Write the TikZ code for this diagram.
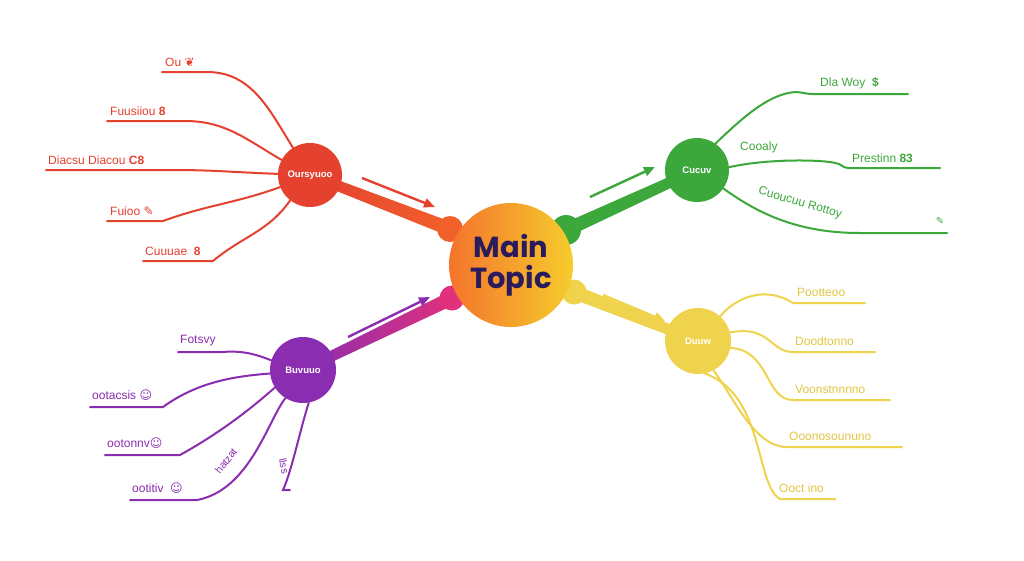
\documentclass[tikz,border=0pt]{standalone}
\usepackage{fontspec}
\setmainfont{Liberation Sans}
\newfontfamily\mainf{Poppins}
\newfontfamily\symf{DejaVu Sans}
\usetikzlibrary{calc,arrows.meta}
\definecolor{redc}{HTML}{E4412F}
\definecolor{redo}{HTML}{F2602A}
\definecolor{greenc}{HTML}{3CA83C}
\definecolor{yellowc}{HTML}{F0D34C}
\definecolor{yellowt}{HTML}{E2C543}
\definecolor{purplec}{HTML}{8A2DB0}
\definecolor{magc}{HTML}{E2307C}
\definecolor{mainL}{HTML}{F4742C}
\definecolor{mainR}{HTML}{F6CC2C}
\definecolor{maintxt}{HTML}{2A1B5C}
\tikzset{
  sub/.style={circle, minimum size=#1, inner sep=0pt, text=white, font=\bfseries\fontsize{9.5}{10}\selectfont},
  blob/.style={circle, minimum size=#1, inner sep=0pt},
  leaftext/.style={anchor=south west, inner sep=0pt, font=\fontsize{12}{13}\selectfont},
  twig/.style={line width=2pt, line cap=round},
  hint/.style={line width=2.4pt, -{Triangle[length=11pt,width=9pt]}}
}
\begin{document}
\begin{tikzpicture}[x=1pt,y=-1pt]
\useasboundingbox[fill=white] (0,0) rectangle (1024,560);

% ---------- centres ----------
\coordinate (mc) at (511,265);
\coordinate (rbc) at (450,229);
\coordinate (gbc) at (566,230);
\coordinate (pbc) at (452,298);
\coordinate (ybc) at (574,292);
\coordinate (rcc) at (310,175);
\coordinate (gcc) at (697,170);
\coordinate (pcc) at (303,370);
\coordinate (ycc) at (698,341);

% ---------- thick branches ----------
\shade[left color=redc, right color=redo]
  ($(rcc)!5pt!90:(rbc)$) -- ($(rcc)!5pt!-90:(rbc)$) -- ($(rbc)!7pt!90:(rcc)$) -- ($(rbc)!7pt!-90:(rcc)$) -- cycle;
\fill[greenc]
  ($(gbc)!7pt!90:(gcc)$) -- ($(gbc)!7pt!-90:(gcc)$) -- ($(gcc)!5pt!90:(gbc)$) -- ($(gcc)!5pt!-90:(gbc)$) -- cycle;
\shade[left color=purplec, right color=magc]
  ($(pcc)!5pt!90:(pbc)$) -- ($(pcc)!5pt!-90:(pbc)$) -- ($(pbc)!7pt!90:(pcc)$) -- ($(pbc)!7pt!-90:(pcc)$) -- cycle;
\fill[yellowc]
  ($(ybc)!7pt!90:(ycc)$) -- ($(ybc)!7pt!-90:(ycc)$) -- ($(ycc)!5pt!90:(ybc)$) -- ($(ycc)!5pt!-90:(ybc)$) -- cycle;

% ---------- blobs and main ----------
\node[blob=26pt, fill=redo] (rb) at (rbc) {};
\node[blob=30pt, fill=greenc] (gb) at (gbc) {};
\node[blob=25pt, fill=magc] (pb) at (pbc) {};
\node[blob=25pt, fill=yellowc] (yb) at (ybc) {};
\node[circle, minimum size=124pt, inner sep=0pt, left color=mainL, right color=mainR,
      text=maintxt, align=center, font=\mainf\bfseries\fontsize{29}{31}\selectfont] (m) at (mc) {Main\\Topic};

% ---------- sub topics ----------
\node[sub=64pt, fill=redc] (rc) at (rcc) {Oursyuoo};
\node[sub=64pt, fill=greenc] (gc) at (gcc) {Cucuv};
\node[sub=66pt, fill=purplec] (pc) at (pcc) {Buvuuo};
\node[sub=66pt, fill=yellowc] (yc) at (ycc) {Duuw};

% ---------- direction arrows ----------
\coordinate (ra1) at (362,178); \coordinate (ra2) at (435,207);
\draw[hint, redc] (ra1) -- (ra2);
\coordinate (ga1) at (590,197); \coordinate (ga2) at (655,167);
\draw[hint, greenc] (ga1) -- (ga2);
\coordinate (pa1) at (348,337); \coordinate (pa2) at (430,297);
\draw[hint, purplec] (pa1) -- (pa2);
\coordinate (ya1) at (603,295); \coordinate (ya2) at (665,321);
\draw[hint, yellowc] (ya1) -- (ya2);

% ---------- red leaves ----------
\begin{scope}[redc]
\coordinate (r1s) at (162,72);  \coordinate (r1e) at (207,72);
\coordinate (r2s) at (107,121); \coordinate (r2e) at (185,121);
\coordinate (r3s) at (46,170);  \coordinate (r3e) at (173,170);
\coordinate (r4s) at (107,221); \coordinate (r4e) at (163,221);
\coordinate (r5s) at (143,261); \coordinate (r5e) at (213,261);
\node[leaftext, text=redc] (r1) at (165,67) {Ou {\symf ❦}};
\node[leaftext, text=redc] (r2) at (110,116) {Fuusiiou \textbf{8}};
\node[leaftext, text=redc] (r3) at (48,165) {Diacsu Diacou \textbf{C8}};
\node[leaftext, text=redc] (r4) at (110,216) {Fuioo {\symf ✎}};
\node[leaftext, text=redc] (r5) at (145,256) {Cuuuae \ \textbf{8}};
\draw[twig] (r1s) -- (r1e) to[out=0,in=122] (rc.122);
\draw[twig] (r2s) -- (r2e) to[out=0,in=150] (rc.152);
\draw[twig] (r3s) -- (r3e) to[out=0,in=178] (rc.178);
\draw[twig] (r4s) -- (r4e) to[out=20,in=200] (rc.202);
\draw[twig] (r5s) -- (r5e) to[out=40,in=235] (rc.232);
\end{scope}

% ---------- green leaves ----------
\begin{scope}[greenc]
\coordinate (g1s) at (812,94);  \coordinate (g1e) at (908,94);
\coordinate (g2s) at (848,168); \coordinate (g2e) at (940,168);
\coordinate (g3s) at (860,233); \coordinate (g3e) at (947,233);
\node[leaftext, text=greenc] (g1) at (820,89) {Dla Woy \ \textbf{\$}};
\node[leaftext, text=greenc] (g2a) at (740,153) {Cooaly};
\node[leaftext, text=greenc] (g2) at (852,163) {Prestinn \textbf{83}};
\node[text=greenc, inner sep=0pt, font=\fontsize{12}{13}\selectfont, rotate=-16] (g3) at (800,203) {Cuoucuu Rottoy};
\node[text=greenc, inner sep=0pt, font=\symf\fontsize{10}{10}\selectfont] (g3i) at (940,221) {✎};
\draw[twig] (gc.55) .. controls (745,115) and (770,94) .. (795,92) to[out=0,in=180] (g1s) -- (g1e);
\draw[twig] (gc.5) .. controls (770,158) and (825,160) .. (835,163) to[out=0,in=180] (g2s) -- (g2e);
\draw[twig] (gc.-35) .. controls (760,215) and (800,233) .. (g3s) -- (g3e);
\end{scope}

% ---------- yellow leaves ----------
\begin{scope}[yellowc]
\coordinate (y1s) at (793,303); \coordinate (y1e) at (865,303);
\coordinate (y2s) at (793,352); \coordinate (y2e) at (875,352);
\coordinate (y3s) at (793,400); \coordinate (y3e) at (890,400);
\coordinate (y4s) at (787,447); \coordinate (y4e) at (902,447);
\coordinate (y5s) at (780,499); \coordinate (y5e) at (835,499);
\node[leaftext, text=yellowt] (y1) at (797,297) {Pootteoo};
\node[leaftext, text=yellowt] (y2) at (795,346) {Doodtonno};
\node[leaftext, text=yellowt] (y3) at (795,394) {Voonstnnnno};
\node[leaftext, text=yellowt] (y4) at (789,441) {Ooonosoununo};
\node[leaftext, text=yellowt] (y5) at (779,493) {Ooct ino};
\draw[twig] (yc.48) .. controls (735,298) and (765,285) .. (y1s) -- (y1e);
\draw[twig] (yc.15) .. controls (770,325) and (770,352) .. (y2s) -- (y2e);
\draw[twig] (yc.-12) .. controls (770,350) and (765,400) .. (y3s) -- (y3e);
\draw[twig] (yc.-62) .. controls (735,400) and (755,447) .. (y4s) -- (y4e);
\draw[twig] (yc.-78) .. controls (765,395) and (755,485) .. (y5s) -- (y5e);
\end{scope}

% ---------- purple leaves ----------
\begin{scope}[purplec]
\coordinate (p1s) at (178,352); \coordinate (p1e) at (223,352);
\coordinate (p2s) at (90,407);  \coordinate (p2e) at (163,407);
\coordinate (p3s) at (105,455); \coordinate (p3e) at (180,455);
\coordinate (p4s) at (130,500); \coordinate (p4e) at (197,500);
\coordinate (p5e) at (283,490); \coordinate (p5t) at (290,490);
\node[leaftext, text=purplec] (p1) at (180,346) {Fotsvy};
\node[leaftext, text=purplec] (p2) at (92,401) {ootacsis {\symf ☺}};
\node[leaftext, text=purplec] (p3) at (107,449) {ootonnv{\symf ☺}};
\node[leaftext, text=purplec] (p4) at (132,494) {ootitiv \ {\symf ☺}};
\node[text=purplec, inner sep=0pt, font=\fontsize{10.5}{11}\selectfont, rotate=52] (p4b) at (226,461) {hatzat};
\node[text=purplec, inner sep=0pt, font=\fontsize{10.5}{11}\selectfont, rotate=-78] (p5) at (284,466) {llss};
\draw[twig] (p1s) -- (p1e) .. controls (245,350) and (260,356) .. (pc.163);
\draw[twig] (p2s) -- (p2e) .. controls (200,380) and (240,376) .. (pc.186);
\draw[twig] (p3s) -- (p3e) .. controls (225,430) and (255,405) .. (pc.212);
\draw[twig] (p4s) -- (p4e) .. controls (250,490) and (268,420) .. (pc.238);
\draw[twig] (pc.-80) .. controls (300,430) and (292,470) .. (p5e) -- (p5t);
\end{scope}
\end{tikzpicture}
\end{document}
